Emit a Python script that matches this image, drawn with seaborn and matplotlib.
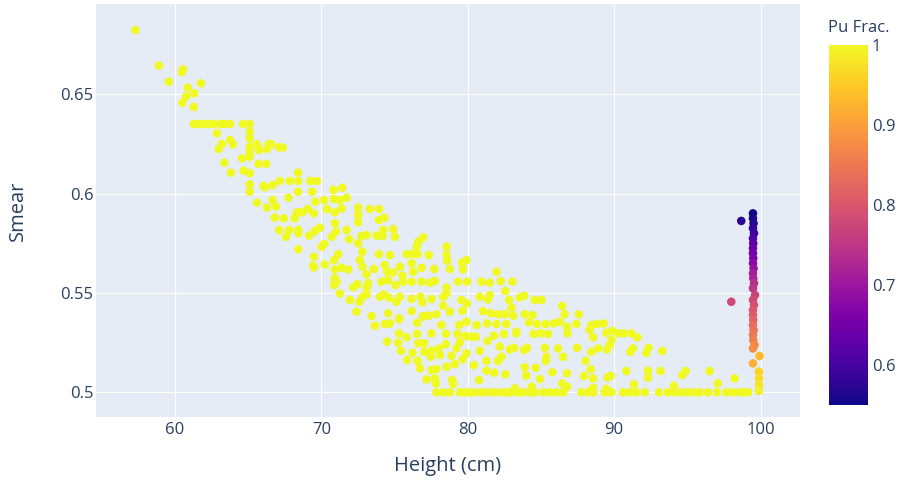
import pandas as pd
import seaborn as sns
import matplotlib.pyplot as plt
from matplotlib.cm import ScalarMappable
from matplotlib.colors import Normalize
from matplotlib.ticker import FuncFormatter

# main cloud, Pu fraction = 1
band_height = [
    57.29, 58.90, 59.57, 60.55, 60.46, 60.87, 61.77, 61.30, 60.75, 60.50, 61.27,
    61.28, 61.62, 61.96, 62.30, 62.64, 63.10, 63.43, 63.77, 64.64, 65.10,
    62.87, 65.10, 65.10, 63.20, 62.98, 63.77, 63.96, 65.10, 65.10, 65.60, 65.73,
    66.40, 66.28, 66.55, 67.08, 67.37, 64.57, 65.10, 65.70, 66.23, 63.37, 63.82,
    64.69, 65.10, 68.40, 65.10, 65.10, 66.05, 66.16, 66.67, 67.15, 67.83, 68.40,
    69.24, 69.70, 68.40, 69.37, 67.76, 65.60, 66.67, 66.28, 66.90, 69.58, 70.19,
    70.87, 70.83, 70.38, 68.33, 68.67, 69.06, 69.47, 66.80, 67.42, 68.17,
    71.42, 71.72, 71.26, 70.92, 71.38, 72.51, 72.51, 72.51, 73.31, 73.93, 73.93,
    74.29, 74.22, 74.90, 75.02, 73.77, 74.18, 76.95, 76.61, 76.50, 75.82, 76.23,
    76.57, 77.34, 78.55, 78.55, 78.59, 79.61, 79.91, 70.92, 70.99, 70.70, 71.72,
    71.90, 72.74, 73.09, 72.51, 72.79, 72.63, 72.81, 73.93, 74.68, 71.15, 70.87,
    70.24, 69.49, 69.44, 69.49, 70.92, 71.38, 71.83, 70.92, 71.04, 70.87, 73.09,
    73.58, 73.20, 73.09, 74.33, 74.49, 74.90, 75.36, 75.54, 76.16, 76.27, 76.84,
    77.70, 78.77, 79.68, 74.11, 74.56, 75.06, 75.58, 76.16, 76.84, 77.41, 77.75,
    78.55, 79.34, 79.95, 71.26, 71.95, 72.17, 72.47, 72.58, 72.81, 73.09, 73.99,
    74.27, 74.63, 75.13, 75.36, 76.16, 76.77, 76.91, 77.52, 78.32, 78.55, 78.32,
    72.40, 73.43, 74.56, 75.31, 76.16, 76.95, 77.86, 78.77, 79.57, 79.64, 79.95,
    67.12, 67.80, 67.58, 68.42, 68.42, 69.17, 69.56, 69.90, 68.42, 70.01, 70.19,
    81.96, 80.94, 81.50, 82.25, 83.05, 80.82, 81.50, 81.39, 82.57, 82.82, 82.98,
    83.55, 83.85, 84.57, 85.03, 81.04, 81.57, 82.07, 82.53, 83.09, 83.89, 84.42,
    86.44, 86.62, 84.73, 85.32, 85.87, 86.28, 86.78,
    73.65, 74.33, 74.68, 75.31, 76.54, 76.95, 77.34, 78.20, 79.41, 79.91, 80.60,
    81.32, 81.96, 82.64, 83.32, 84.19,
    75.31, 75.82, 76.54, 77.52, 78.50, 79.30, 79.86, 80.25, 80.55, 81.78, 82.46,
    83.32, 84.50, 84.98, 85.48,
    74.49, 75.24, 76.61, 77.02, 78.50, 79.45, 81.34, 82.18,
    75.43, 76.23, 77.02, 77.52, 78.02, 79.23, 79.91, 80.82, 82.87, 83.16, 83.85,
    84.05, 85.26, 86.17,
    75.86, 76.57, 77.47, 78.09, 78.89, 79.64, 80.41, 81.28, 82.07, 82.30, 85.37,
    85.33, 86.51,
    76.72, 77.52, 77.86, 78.55, 79.11, 81.28, 81.80, 82.57, 83.89, 84.64, 84.00,
    84.92, 85.78, 86.78,
    77.18, 77.75, 77.82, 78.93, 79.00, 80.77,
    77.86, 78.32, 78.77, 79.45, 79.80, 80.14, 80.48, 80.94, 81.39, 81.84, 82.30,
    82.64, 82.98, 83.43, 83.77, 84.23, 84.57, 85.14, 85.60, 86.05, 86.51,
    83.21, 84.35, 86.44, 86.78,
    87.58, 87.42, 86.81, 88.44, 88.83, 89.28, 88.33, 88.56, 89.47, 89.88, 90.26,
    90.65, 91.17, 91.58, 89.81, 89.69, 89.51, 87.46, 88.44, 88.90, 91.28, 91.10,
    92.35, 92.20, 93.29, 88.05, 88.40, 88.56, 87.94, 89.54, 89.76, 90.83, 91.35,
    92.31, 92.31, 93.17, 94.66, 94.88, 96.52, 94.08,
    87.76, 88.21, 88.56, 89.35, 89.81, 90.60, 91.06, 91.51, 92.08, 93.06, 93.67,
    94.13, 94.59, 95.04, 95.50, 95.84, 96.40, 97.02,
    88.56, 88.40, 89.47,
    97.08, 98.23, 97.66, 98.11, 98.57, 98.91, 99.14,
]
band_smear = [
    0.6824, 0.6645, 0.6564, 0.6626, 0.6613, 0.6534, 0.6556, 0.6505, 0.6490, 0.6458, 0.6437,
    0.6351, 0.6351, 0.6351, 0.6351, 0.6351, 0.6351, 0.6351, 0.6351, 0.6351, 0.6351,
    0.6304, 0.6312, 0.6279, 0.6250, 0.6225, 0.6270, 0.6249, 0.6237, 0.6211, 0.6249, 0.6220,
    0.6249, 0.6225, 0.6250, 0.6234, 0.6232, 0.6178, 0.6186, 0.6150, 0.6150, 0.6156, 0.6106,
    0.6116, 0.6103, 0.6106, 0.6047, 0.6010, 0.6039, 0.6032, 0.6044, 0.6064, 0.6064, 0.6064,
    0.6064, 0.6064, 0.6010, 0.6010, 0.5980, 0.5955, 0.5968, 0.5930, 0.5935, 0.5960, 0.5968,
    0.5973, 0.6019, 0.5923, 0.5906, 0.5906, 0.5923, 0.5901, 0.5880, 0.5876, 0.5876,
    0.6030, 0.5980, 0.5968, 0.5906, 0.5926, 0.5930, 0.5893, 0.5856, 0.5923, 0.5923, 0.5868,
    0.5879, 0.5817, 0.5822, 0.5783, 0.5789, 0.5787, 0.5780, 0.5758, 0.5733, 0.5696, 0.5696,
    0.5696, 0.5691, 0.5733, 0.5691, 0.5663, 0.5653, 0.5666, 0.5851, 0.5809, 0.5783, 0.5817,
    0.5770, 0.5787, 0.5792, 0.5750, 0.5708, 0.5666, 0.5632, 0.5696, 0.5691, 0.5696, 0.5666,
    0.5644, 0.5683, 0.5637, 0.5629, 0.5619, 0.5627, 0.5619, 0.5574, 0.5557, 0.5540, 0.5594,
    0.5621, 0.5549, 0.5527, 0.5641, 0.5607, 0.5604, 0.5632, 0.5587, 0.5650, 0.5607, 0.5627,
    0.5621, 0.5621, 0.5619, 0.5557, 0.5565, 0.5540, 0.5557, 0.5557, 0.5557, 0.5552, 0.5560,
    0.5527, 0.5557, 0.5557, 0.5498, 0.5465, 0.5529, 0.5544, 0.5456, 0.5481, 0.5493, 0.5481,
    0.5493, 0.5476, 0.5456, 0.5481, 0.5470, 0.5481, 0.5453, 0.5470, 0.5481, 0.5498, 0.5436,
    0.5406, 0.5384, 0.5398, 0.5373, 0.5409, 0.5384, 0.5393, 0.5406, 0.5465, 0.5411, 0.5448,
    0.5817, 0.5817, 0.5783, 0.5817, 0.5800, 0.5789, 0.5812, 0.5829, 0.5720, 0.5733, 0.5747,
    0.5607, 0.5557, 0.5552, 0.5560, 0.5557, 0.5481, 0.5490, 0.5468, 0.5510, 0.5465, 0.5426,
    0.5478, 0.5486, 0.5465, 0.5465, 0.5409, 0.5398, 0.5393, 0.5393, 0.5386, 0.5393, 0.5389,
    0.5435, 0.5393, 0.5344, 0.5344, 0.5347, 0.5355, 0.5330,
    0.5335, 0.5344, 0.5347, 0.5368, 0.5350, 0.5381, 0.5386, 0.5339, 0.5339, 0.5355, 0.5339,
    0.5347, 0.5344, 0.5344, 0.5305, 0.5352,
    0.5297, 0.5277, 0.5294, 0.5297, 0.5294, 0.5294, 0.5283, 0.5280, 0.5280, 0.5285, 0.5294,
    0.5297, 0.5294, 0.5297, 0.5294,
    0.5255, 0.5250, 0.5247, 0.5247, 0.5242, 0.5252, 0.5258, 0.5230,
    0.5209, 0.5199, 0.5204, 0.5209, 0.5221, 0.5221, 0.5196, 0.5209, 0.5216, 0.5224, 0.5213,
    0.5224, 0.5224, 0.5221,
    0.5163, 0.5158, 0.5179, 0.5188, 0.5184, 0.5167, 0.5137, 0.5159, 0.5158, 0.5179, 0.5179,
    0.5159, 0.5179,
    0.5121, 0.5112, 0.5117, 0.5129, 0.5142, 0.5109, 0.5099, 0.5091, 0.5126, 0.5124, 0.5084,
    0.5067, 0.5101, 0.5096,
    0.5065, 0.5070, 0.5045, 0.5062, 0.5042, 0.5062,
    0.5000, 0.5000, 0.5000, 0.5000, 0.5000, 0.5000, 0.5000, 0.5000, 0.5000, 0.5000, 0.5000,
    0.5000, 0.5000, 0.5000, 0.5000, 0.5000, 0.5000, 0.5000, 0.5000, 0.5000, 0.5000,
    0.5020, 0.5028, 0.5045, 0.5028,
    0.5393, 0.5344, 0.5297, 0.5339, 0.5344, 0.5347, 0.5314, 0.5277, 0.5300, 0.5309, 0.5297,
    0.5297, 0.5297, 0.5277, 0.5263, 0.5238, 0.5216, 0.5224, 0.5204, 0.5221, 0.5221, 0.5204,
    0.5224, 0.5199, 0.5208, 0.5159, 0.5116, 0.5070, 0.5082, 0.5075, 0.5083, 0.5107, 0.5040,
    0.5109, 0.5074, 0.5107, 0.5087, 0.5107, 0.5107, 0.5033,
    0.5000, 0.5000, 0.5000, 0.5000, 0.5000, 0.5000, 0.5000, 0.5000, 0.5000, 0.5000, 0.5000,
    0.5000, 0.5000, 0.5000, 0.5000, 0.5000, 0.5000, 0.5000,
    0.5022, 0.5009, 0.5017,
    0.5045, 0.5070, 0.5000, 0.5000, 0.5000, 0.5000, 0.5000,
]
band_pu = [1.0] * len(band_height)

# near-full-height column with mixed Pu fraction
col_height = [
    99.48, 99.48, 99.52, 99.48, 99.55, 99.48, 99.50, 99.48, 99.48, 99.50,
    99.48, 99.52, 99.48, 99.50, 99.55, 99.48, 99.62, 99.48, 99.55, 99.48,
    99.48, 99.50, 99.48, 99.52, 99.48, 99.50, 99.58, 99.48,
    98.68, 98.00, 99.48, 99.93, 99.89, 99.89, 99.89, 99.89,
]
col_smear = [
    0.5901, 0.5876, 0.5851, 0.5826, 0.5801, 0.5775, 0.5750, 0.5725, 0.5700, 0.5675,
    0.5650, 0.5624, 0.5599, 0.5574, 0.5549, 0.5524, 0.5490, 0.5465, 0.5440, 0.5414,
    0.5389, 0.5364, 0.5339, 0.5314, 0.5289, 0.5263, 0.5238, 0.5221,
    0.5863, 0.5456, 0.5146, 0.5183, 0.5104, 0.5070, 0.5037, 0.5007,
]
col_pu = [
    0.55, 0.56, 0.57, 0.58, 0.59, 0.61, 0.62, 0.64, 0.65, 0.66,
    0.68, 0.69, 0.71, 0.72, 0.74, 0.75, 0.77, 0.78, 0.79, 0.80,
    0.81, 0.82, 0.83, 0.84, 0.85, 0.86, 0.87, 0.88,
    0.57, 0.78, 0.92, 0.93, 0.96, 0.97, 0.98, 0.99,
]

df = pd.DataFrame({
    'Height (cm)': band_height + col_height,
    'Smear': band_smear + col_smear,
    'Pu Frac.': band_pu + col_pu,
})

sns.set_theme(style='darkgrid', rc={
    'axes.facecolor': '#E5ECF6',
    'grid.color': 'white',
    'grid.linewidth': 0.8,
})
plt.rcParams['font.family'] = ['Open Sans', 'DejaVu Sans']
text_color = '#2a3f5f'

dpi = 100
fig = plt.figure(figsize=(901 / dpi, 482 / dpi), dpi=dpi)
ax = fig.add_axes([0.1065, 0.1349, 0.7815, 0.8568])

norm = Normalize(vmin=0.55, vmax=1.0)
sns.scatterplot(data=df, x='Height (cm)', y='Smear', hue='Pu Frac.',
                palette='plasma', hue_norm=norm, s=38, linewidth=0,
                legend=False, ax=ax)

ax.set_xlim(54.6, 102.7)
ax.set_ylim(0.4876, 0.6955)
ax.set_xticks([60, 70, 80, 90, 100])
ax.set_yticks([0.5, 0.55, 0.6, 0.65])
ax.yaxis.set_major_formatter(FuncFormatter(lambda v, p: f'{v:g}'))
for s in ax.spines.values():
    s.set_visible(False)
ax.tick_params(axis='both', length=0, labelsize=12, labelcolor=text_color)
ax.tick_params(axis='x', pad=3.5)
ax.tick_params(axis='y', pad=1.7)
ax.set_xlabel('Height (cm)', fontsize=14.5, color=text_color, va='center')
ax.set_ylabel('Smear', fontsize=14.5, color=text_color, va='center')
ax.xaxis.set_label_coords(0.5, -0.119)
ax.yaxis.set_label_coords(-0.111, 0.5)

cax = fig.add_axes([0.920, 0.160, 0.043, 0.747])
cbar = fig.colorbar(ScalarMappable(norm=norm, cmap='plasma'), cax=cax)
cbar.outline.set_visible(False)
cbar.set_ticks([0.6, 0.7, 0.8, 0.9, 1.0])
cbar.ax.yaxis.set_major_formatter(FuncFormatter(lambda v, p: f'{v:g}'))
cbar.ax.tick_params(length=0, labelsize=12, labelcolor=text_color, pad=3)
fig.text(0.919, 0.942, 'Pu Frac.', fontsize=12, color=text_color,
         ha='left', va='center')

fig.savefig('out.png', dpi=dpi)
